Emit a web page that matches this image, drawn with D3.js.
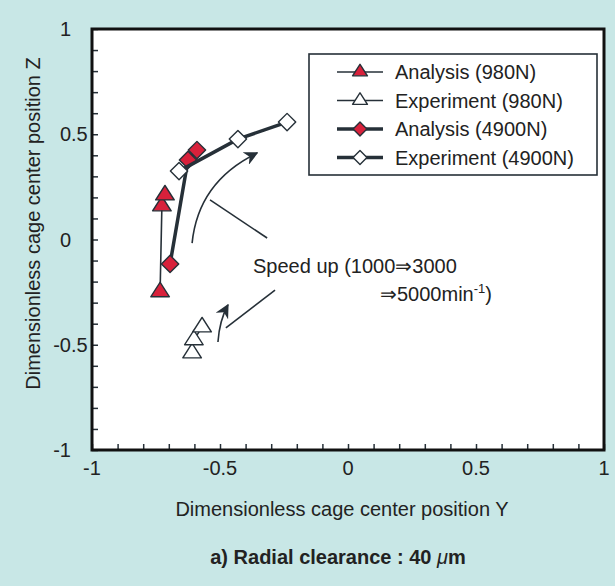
<!DOCTYPE html>
<html>
<head>
<meta charset="utf-8">
<script src="https://cdn.jsdelivr.net/npm/d3@7"></script>
<style>
  body { margin: 0; background: #c8e7e6; }
  svg { display: block; font-family: "Liberation Sans", Arial, sans-serif; }
</style>
</head>
<body>
<div class="cage-chart"></div>
<script>
// series: [Y, Z] from 1000 -> 3000 -> 5000 min-1
const analysis980 = [[-0.734, -0.249], [-0.727, 0.159], [-0.715, 0.211]];
const experiment980 = [[-0.609, -0.539], [-0.602, -0.477], [-0.570, -0.416]];
const analysis4900 = [[-0.695, -0.116], [-0.625, 0.378], [-0.590, 0.425]];
const experiment4900 = [[-0.660, 0.325], [-0.430, 0.477], [-0.238, 0.558]];

const xTickLabels = [-1, -0.5, 0, 0.5, 1];
const yTickLabels = [-1, -0.5, 0, 0.5, 1];
const legendLabels = ['Analysis (980N)', 'Experiment (980N)', 'Analysis (4900N)', 'Experiment (4900N)'];

// annotation arrows in data units: start, control, tip
const bigArrow = [[-0.609, -0.017], [-0.585, 0.275], [-0.355, 0.411]];
const bigLeader = [[-0.539, 0.188], [-0.316, 0.007]];
const smallArrow = [[-0.508, -0.487], [-0.502, -0.385], [-0.469, -0.311]];
const smallLeader = [[-0.477, -0.420], [-0.285, -0.240]];

const config = {
  width: 615,
  height: 586,
  left: 92,
  right: 604,
  top: 29,
  bottom: 450,
  red: '#d8213b',
  ink: '#263038'
};

const x = d3.scaleLinear().domain([-1, 1]).range([config.left, config.right]);
const y = d3.scaleLinear().domain([-1, 1]).range([config.bottom, config.top]);

const svg = d3.select('.cage-chart').append('svg')
  .attr('width', config.width)
  .attr('height', config.height);

svg.append('rect')
  .attr('width', config.width).attr('height', config.height)
  .attr('fill', '#c8e7e6');

svg.append('rect')
  .attr('x', config.left).attr('y', config.top)
  .attr('width', config.right - config.left)
  .attr('height', config.bottom - config.top)
  .attr('fill', '#fff');

// minor ticks every 0.1, pointing inside
const tickValues = d3.range(-10, 11).map(d => d / 10);

svg.append('g')
  .attr('transform', `translate(0,${config.bottom})`)
  .call(d3.axisTop(x).tickValues(tickValues).tickSize(6).tickFormat(''))
  .call(g => g.select('.domain').remove())
  .call(g => g.selectAll('line').attr('stroke', config.ink).attr('stroke-width', 1.5));

svg.append('g')
  .attr('transform', `translate(${config.left},0)`)
  .call(d3.axisRight(y).tickValues(tickValues).tickSize(6).tickFormat(''))
  .call(g => g.select('.domain').remove())
  .call(g => g.selectAll('line').attr('stroke', config.ink).attr('stroke-width', 1.5));

// frame
svg.append('rect')
  .attr('x', config.left).attr('y', config.top)
  .attr('width', config.right - config.left)
  .attr('height', config.bottom - config.top)
  .attr('fill', 'none')
  .attr('stroke', '#111')
  .attr('stroke-width', 3);

// x tick labels
svg.append('g').selectAll('text')
  .data(xTickLabels)
  .enter().append('text')
  .attr('x', d => x(d))
  .attr('y', config.bottom + 25)
  .attr('text-anchor', 'middle')
  .attr('font-size', 20)
  .attr('fill', '#222')
  .text(d => d);

// y tick labels, lined up on the decimal point
const yLabels = svg.append('g').selectAll('g')
  .data(yTickLabels)
  .enter().append('g');

yLabels.append('text')
  .attr('x', 71)
  .attr('y', d => y(d) + 7)
  .attr('text-anchor', 'end')
  .attr('font-size', 20)
  .attr('fill', '#222')
  .text(d => String(d).split('.')[0]);

yLabels.append('text')
  .attr('x', 71)
  .attr('y', d => y(d) + 7)
  .attr('font-size', 20)
  .attr('fill', '#222')
  .text(d => String(d).includes('.') ? '.' + String(d).split('.')[1] : '');

svg.append('text')
  .attr('x', x(0) - 6)
  .attr('y', 516)
  .attr('text-anchor', 'middle')
  .attr('font-size', 20)
  .attr('fill', '#222')
  .text('Dimensionless cage center position Y');

svg.append('text')
  .attr('transform', `translate(40,${y(0) - 16}) rotate(-90)`)
  .attr('text-anchor', 'middle')
  .attr('font-size', 20)
  .attr('fill', '#222')
  .text('Dimensionless cage center position Z');

const title = svg.append('text')
  .attr('x', x(0) - 10)
  .attr('y', 564)
  .attr('text-anchor', 'middle')
  .attr('font-size', 20)
  .attr('font-weight', 'bold')
  .attr('fill', '#222');
title.append('tspan').text('a) Radial clearance : 40 ');
title.append('tspan').attr('font-style', 'italic').attr('font-weight', 'normal').text('μ');
title.append('tspan').text('m');

// series
const line = d3.line().x(d => x(d[0])).y(d => y(d[1]));
const triangle = d3.symbol().type(d3.symbolTriangle).size(135);
const diamond = d3.symbol().type(d3.symbolSquare).size(150);

const series = [
  { data: analysis980, width: 1.6, fill: config.red, shape: 'tri' },
  { data: experiment980, width: 1.6, fill: '#fff', shape: 'tri' },
  { data: analysis4900, width: 3.5, fill: config.red, shape: 'dia' },
  { data: experiment4900, width: 3.5, fill: '#fff', shape: 'dia' }
];

function drawMarker(g, s, px, py, k = 1) {
  g.append('path')
    .attr('d', s.shape === 'tri' ? triangle() : diamond())
    .attr('transform', s.shape === 'tri'
      ? `translate(${px},${py}) scale(${1.05 * k},${0.95 * k})`
      : `translate(${px},${py}) rotate(45) scale(${k})`)
    .attr('fill', s.fill)
    .attr('stroke', config.ink)
    .attr('stroke-width', 1.4 / k)
    .attr('stroke-linejoin', 'round');
}

series.forEach(s => {
  const g = svg.append('g');
  g.append('path')
    .attr('d', line(s.data))
    .attr('fill', 'none')
    .attr('stroke', config.ink)
    .attr('stroke-width', s.width);
  s.data.forEach(d => drawMarker(g, s, x(d[0]), y(d[1])));
});

// annotation arrows
svg.append('defs').append('marker')
  .attr('id', 'head')
  .attr('viewBox', '0 0 10 10')
  .attr('refX', 9).attr('refY', 5)
  .attr('markerWidth', 14).attr('markerHeight', 14)
  .attr('markerUnits', 'userSpaceOnUse')
  .attr('orient', 'auto')
  .append('path')
  .attr('d', 'M0,0 L10,5 L0,10 L3,5 Z')
  .attr('fill', config.ink);

function curve(p) {
  return `M${x(p[0][0])},${y(p[0][1])} Q${x(p[1][0])},${y(p[1][1])} ${x(p[2][0])},${y(p[2][1])}`;
}

[bigArrow, smallArrow].forEach(p => {
  svg.append('path')
    .attr('d', curve(p))
    .attr('fill', 'none')
    .attr('stroke', config.ink)
    .attr('stroke-width', 1.6)
    .attr('marker-end', 'url(#head)');
});

[bigLeader, smallLeader].forEach(p => {
  svg.append('path')
    .attr('d', line(p))
    .attr('stroke', config.ink)
    .attr('stroke-width', 1.6);
});

const note = svg.append('g').attr('font-size', 20).attr('fill', '#222');
note.append('text')
  .attr('x', x(-0.371)).attr('y', y(-0.159))
  .text('Speed up (1000⇒3000');
const note2 = note.append('text')
  .attr('x', x(0.125)).attr('y', y(-0.29));
note2.append('tspan').text('⇒5000min');
note2.append('tspan').attr('font-size', 13).attr('dy', -8).text('-1');
note2.append('tspan').attr('dy', 8).text(')');

// legend
const legend = svg.append('g').attr('transform', 'translate(309,54)');
legend.append('rect')
  .attr('width', 288).attr('height', 121)
  .attr('fill', '#fff')
  .attr('stroke', config.ink)
  .attr('stroke-width', 1.6);

series.forEach((s, i) => {
  const row = legend.append('g').attr('transform', `translate(0,${18 + i * 28.5})`);
  row.append('line')
    .attr('x1', 28).attr('x2', 74)
    .attr('stroke', config.ink)
    .attr('stroke-width', s.width);
  drawMarker(row, s, 51, 0, 0.8);
  row.append('text')
    .attr('x', 86).attr('y', 7)
    .attr('font-size', 20)
    .attr('fill', '#222')
    .text(legendLabels[i]);
});
</script>
</body>
</html>
